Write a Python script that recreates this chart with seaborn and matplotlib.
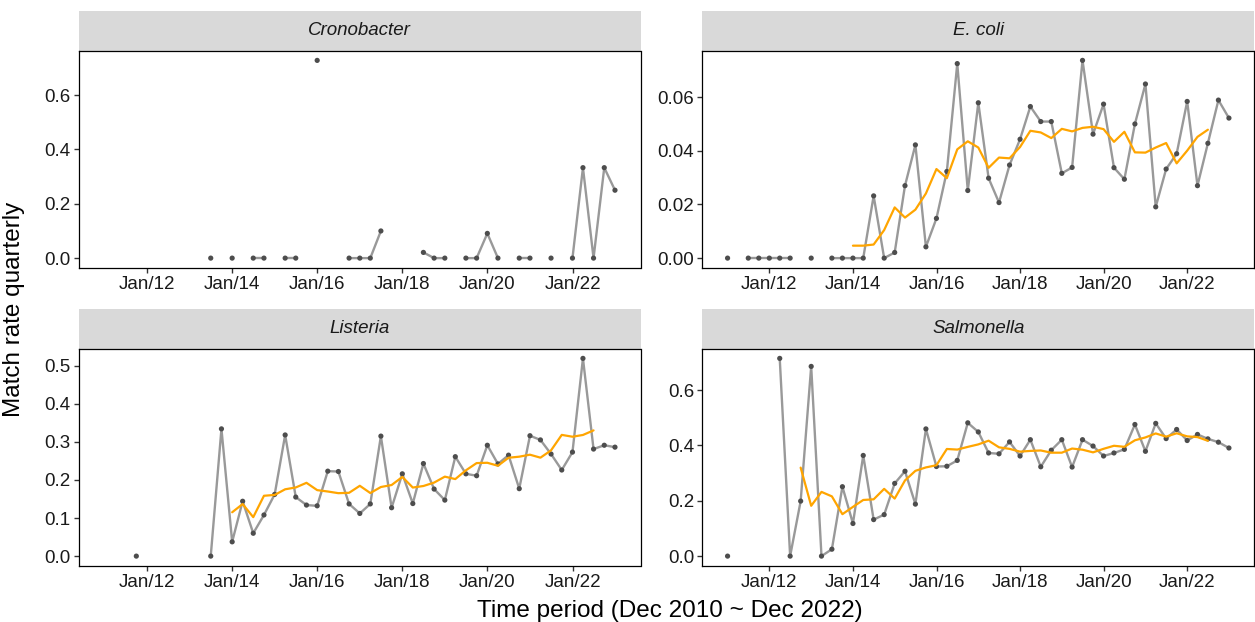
import numpy as np
import pandas as pd
import matplotlib
matplotlib.use('Agg')  # no display

import matplotlib.pyplot as plt
import matplotlib.dates as mdates
from matplotlib.ticker import MultipleLocator, FormatStrFormatter
from matplotlib.patches import Rectangle
import seaborn as sns

nan = np.nan

# quarter ends, Dec 2010 .. Dec 2022
quarters = pd.date_range("2010-12-31", periods=49, freq="QE")

organisms = ["Cronobacter", "E. coli", "Listeria", "Salmonella"]

cronobacter = [nan, nan, nan, nan, nan, nan, nan, nan, nan, nan,
               0.0, nan, 0.0, nan, 0.0, 0.0, nan, 0.0, 0.0, nan,
               0.728, nan, nan, 0.0, 0.0, 0.0, 0.1, nan, nan, nan,
               0.021, 0.0, 0.0, nan, 0.0, 0.0, 0.091, 0.0, nan, 0.0,
               0.0, nan, 0.0, nan, 0.0, 0.333, 0.0, 0.333, 0.25]

e_coli = [0.0, nan, 0.0, 0.0, 0.0, 0.0, 0.0, nan, 0.0, nan,
          0.0, 0.0, 0.0, 0.0, 0.0232, 0.0, 0.0021, 0.027, 0.0422, 0.0042,
          0.0148, 0.0323, 0.0725, 0.0252, 0.0579, 0.0298, 0.0207, 0.0347, 0.0443, 0.0565,
          0.0509, 0.0509, 0.0316, 0.0338, 0.0737, 0.0462, 0.0574, 0.0337, 0.0294, 0.05,
          0.0649, 0.0191, 0.0332, 0.0389, 0.0584, 0.027, 0.0428, 0.0589, 0.0522]

listeria = [nan, nan, nan, 0.0, nan, nan, nan, nan, nan, nan,
            0.0, 0.334, 0.0375, 0.144, 0.060, 0.108, 0.162, 0.318, 0.155, 0.134,
            0.132, 0.223, 0.222, 0.137, 0.112, 0.137, 0.315, 0.127, 0.216, 0.138,
            0.243, 0.176, 0.147, 0.261, 0.216, 0.211, 0.291, 0.242, 0.265, 0.177,
            0.316, 0.305, 0.268, 0.226, 0.273, 0.519, 0.281, 0.291, 0.286]

salmonella = [0.0, nan, nan, nan, nan, 0.715, 0.0, 0.199, 0.686, 0.0,
              0.025, 0.251, 0.118, 0.364, 0.132, 0.150, 0.263, 0.307, 0.188, 0.460,
              0.324, 0.325, 0.346, 0.482, 0.449, 0.373, 0.370, 0.413, 0.362, 0.421,
              0.323, 0.383, 0.421, 0.322, 0.421, 0.398, 0.362, 0.373, 0.386, 0.476,
              0.379, 0.480, 0.425, 0.458, 0.418, 0.440, 0.424, 0.412, 0.391]

rates = dict(zip(organisms, [cronobacter, e_coli, listeria, salmonella]))

tick_years = [2012, 2014, 2016, 2018, 2020, 2022]

# build long table: gaps split the line, orange = centred 5-quarter moving average
frames = []
for name in organisms:
    s = pd.Series(rates[name], index=quarters, dtype=float)
    ma = s.rolling(5, center=True).mean()
    frames.append(pd.DataFrame({
        "organism": name,
        "date": quarters,
        "rate": s.values,
        "seg": s.isna().cumsum().values,
        "ma": ma.values,
        "ma_seg": ma.isna().cumsum().values,
    }))
df = pd.concat(frames, ignore_index=True)

sns.set_style("white")
plt.rcParams['font.family'] = ['Liberation Sans', 'DejaVu Sans']

fig = plt.figure(figsize=(12.55, 6.22), dpi=100)
W, H = 1255, 622
# panel boxes in pixels: left, top, right, bottom
boxes = {
    "Cronobacter": (79, 50.5, 640.5, 268),
    "E. coli": (702.5, 50.5, 1254, 268),
    "Listeria": (79, 348.5, 640.5, 566),
    "Salmonella": (702.5, 348.5, 1254, 566),
}
strip_px = 39.5
y_step = {"Cronobacter": 0.2, "E. coli": 0.02, "Listeria": 0.1, "Salmonella": 0.2}
y_fmt = {"Cronobacter": "%.1f", "E. coli": "%.2f", "Listeria": "%.1f", "Salmonella": "%.1f"}

x0, x1 = quarters[0], quarters[-1]
span = x1 - x0

for name in organisms:
    l, t, r, b = boxes[name]
    ax = fig.add_axes([l / W, 1 - b / H, (r - l) / W, (b - t) / H])
    d = df[df.organism == name]

    sns.lineplot(data=d.dropna(subset=["rate"]), x="date", y="rate", units="seg",
                 estimator=None, color="#999999", linewidth=1.7, ax=ax)
    sns.scatterplot(data=d, x="date", y="rate", color="#4d4d4d", s=14,
                    edgecolor="none", ax=ax, zorder=3)
    ma_d = d.dropna(subset=["ma"])
    if len(ma_d) > 0:
        sns.lineplot(data=ma_d, x="date", y="ma", units="ma_seg",
                     estimator=None, color="orange", linewidth=1.6, ax=ax, zorder=4)

    ax.set_xlim(x0 - span * 0.05, x1 + span * 0.05)
    ymax = np.nanmax(rates[name])
    ax.set_ylim(-0.05 * ymax, 1.05 * ymax)
    ax.set_xticks([pd.Timestamp(f"{y}-01-01") for y in tick_years])
    ax.xaxis.set_major_formatter(mdates.DateFormatter("%b/%y"))
    ax.yaxis.set_major_locator(MultipleLocator(y_step[name]))
    ax.yaxis.set_major_formatter(FormatStrFormatter(y_fmt[name]))
    ax.set_xlabel("")
    ax.set_ylabel("")
    ax.tick_params(bottom=True, left=True, length=3.5, width=1.0, color="#333333",
                   labelsize=13.5, labelcolor="#1a1a1a", pad=2.5)
    for sp in ax.spines.values():
        sp.set_visible(True)
        sp.set_color("black")
        sp.set_linewidth(0.9)

    # grey strip with italic title
    sh = strip_px / (b - t)
    ax.add_patch(Rectangle((0, 1), 1, sh, transform=ax.transAxes, clip_on=False,
                           facecolor="#d9d9d9", edgecolor="none", zorder=0))
    ax.text(0.5, 1 + sh / 2, name, transform=ax.transAxes, ha="center", va="center",
            fontsize=13.5, fontstyle="italic", color="#1a1a1a")

fig.text(670 / W, 1 - 611 / H, "Time period (Dec 2010 ~ Dec 2022)",
         ha="center", va="center", fontsize=17.5, color="black")
fig.text(14 / W, 1 - 309 / H, "Match rate quarterly", rotation=90,
         ha="center", va="center", fontsize=17.5, color="black")

fig.savefig("out.png", dpi=100)
plt.close(fig)
